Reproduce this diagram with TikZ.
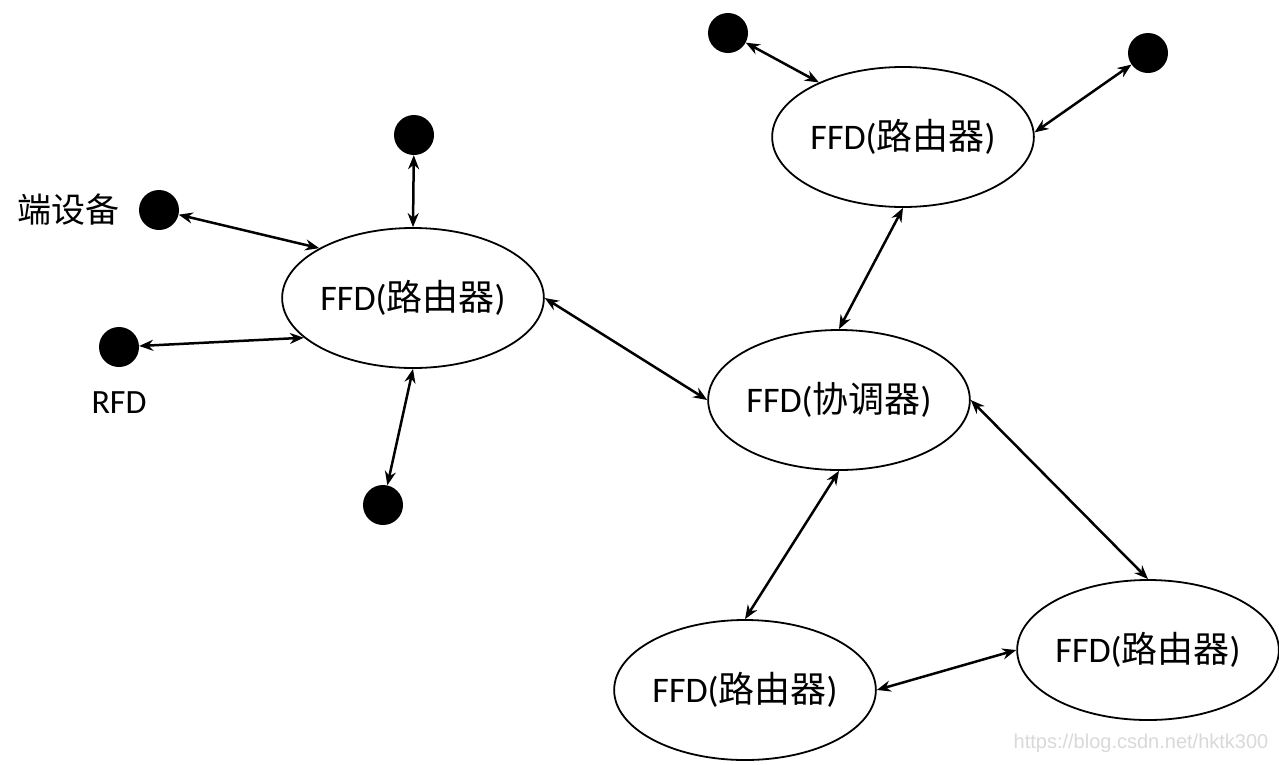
\documentclass[tikz,border=0pt]{standalone}
\usepackage{fontspec}
\setmainfont{Carlito}
\newfontfamily\cjk{Noto Sans CJK SC}
\newfontfamily\wmfont{Liberation Sans}
\usetikzlibrary{arrows.meta,shapes.geometric}
\begin{document}
\begin{tikzpicture}[x=1pt,y=-1pt,
  ffd/.style={draw=black,line width=1.8pt,ellipse,minimum width=260pt,minimum height=140pt,inner sep=0pt,font=\fontsize{36}{40}\selectfont},
  dev/.style={circle,fill=black,minimum size=40pt,inner sep=0pt},
  lbl/.style={font=\fontsize{34}{38}\selectfont,inner sep=0pt},
  link/.style={line width=2.5pt,{Stealth[length=14pt,width=11pt]}-{Stealth[length=14pt,width=11pt]}}]
\useasboundingbox[fill=white] (0,0) rectangle (1279,764);
% ellipses
\node[ffd] (r1) at (413,298) {FFD({\cjk 路由器})};
\node[ffd] (tr) at (903,137) {FFD({\cjk 路由器})};
\node[ffd] (co) at (839,400) {FFD({\cjk 协调器})};
\node[ffd] (bl) at (745,690) {FFD({\cjk 路由器})};
\node[ffd] (br) at (1148,650) {FFD({\cjk 路由器})};
% end devices
\node[dev] (d1) at (728,33) {};
\node[dev] (d2) at (1148,53) {};
\node[dev] (d3) at (414,135) {};
\node[dev] (d4) at (159,210) {};
\node[dev] (d5) at (119,347) {};
\node[dev] (d6) at (383,505) {};
% labels
\node[lbl] (t1) at (68,210) {\cjk 端设备};
\node[lbl] (t2) at (119,403) {RFD};
\node[font=\wmfont\fontsize{20}{24}\selectfont,text=black!15,inner sep=0pt] (wm) at (1141,743) {https://blog.csdn.net/hktk300};
% links
\draw[link] (d4) -- (r1.152);
\draw[link] (d5) -- (r1.200);
\draw[link] (d3) -- (r1.north);
\draw[link] (d6) -- (r1.south);
\draw[link] (r1.east) -- (co.west);
\draw[link] (tr.south) -- (co.north);
\draw[link] (d1) -- (tr.147);
\draw[link] (d2) -- (tr.2);
\draw[link] (co.east) -- (br.north);
\draw[link] (co.south) -- (bl.north);
\draw[link] (bl.east) -- (br.west);
\end{tikzpicture}
\end{document}
